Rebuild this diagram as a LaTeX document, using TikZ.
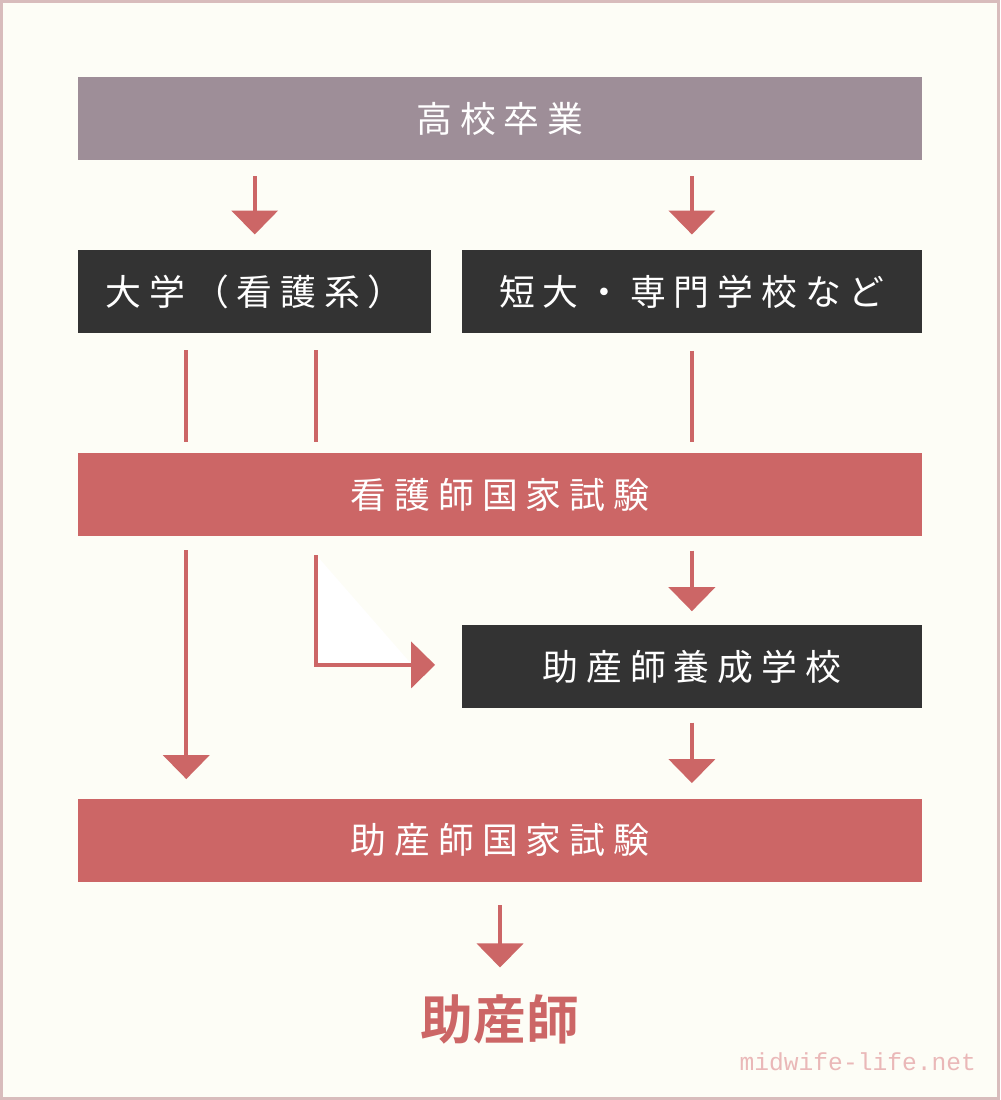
\documentclass[tikz,border=0pt]{standalone}
\usepackage{fontspec}
\setmainfont{Liberation Sans}
\newfontfamily\jpfont[LetterSpace=22]{Noto Sans CJK JP}
\newfontfamily\jpbold{Noto Sans CJK JP Bold}
\newfontfamily\urlfont{Liberation Mono}
\usepackage{xcolor}
\usetikzlibrary{arrows.meta,positioning}
\definecolor{bgcol}{HTML}{FDFDF6}
\definecolor{framecol}{HTML}{D8BCBC}
\definecolor{mauve}{HTML}{9E8E98}
\definecolor{darkbox}{HTML}{333333}
\definecolor{rosecol}{HTML}{CC6666}
\definecolor{pinktext}{HTML}{EAB8B8}

\begin{document}
\begin{tikzpicture}[x=0.01cm, y=-0.01cm,
    box/.style={rectangle, minimum height=0.83cm, text=white, inner sep=0pt,
      font=\jpfont\fontsize{10.2}{12}\selectfont},
    arrow/.style={-{Triangle[width=0.46cm,length=0.24cm]}, rosecol, line width=1.2pt},
    link/.style={rosecol, line width=1.2pt}
]
    % Background and frame
    \fill[bgcol] (0,0) rectangle (1000,1100);
    \draw[framecol, line width=0.8pt] (1,1) rectangle (999,1099);

    % Boxes
    \node[box, fill=mauve, minimum width=8.44cm] (school) at (500,118.5) {高校卒業};
    \node[box, fill=darkbox, minimum width=3.53cm] (univ) at (254.5,291.5) {大学（看護系）};
    \node[box, fill=darkbox, minimum width=4.6cm] (college) at (692,291.5) {短大・専門学校など};
    \node[box, fill=rosecol, minimum width=8.44cm] (nurseexam) at (500,494.5) {看護師国家試験};
    \node[box, fill=darkbox, minimum width=4.6cm] (midschool) at (692,666.5) {助産師養成学校};
    \node[box, fill=rosecol, minimum width=8.44cm] (midexam) at (500,840.5) {助産師国家試験};

    % Result and site name
    \node[text=rosecol, font=\jpbold\fontsize{15}{18}\selectfont] (midwife) at (500,1020) {助産師};
    \node[text=pinktext, font=\urlfont\fontsize{7}{8}\selectfont] (site) at (858,1062) {midwife-life.net};

    % Free ends of the connectors
    \coordinate (ua) at (186,350);
    \coordinate (ub) at (316,350);
    \coordinate (ua2) at (186,550);
    \coordinate (ub2) at (316,555);
    \coordinate (bend) at (316,665);
    \coordinate (tip) at (435,665);

    % Arrows
    \draw[arrow, shorten <=0.15cm, shorten >=0.15cm] (school.south -| univ) -- (univ.north);
    \draw[arrow, shorten <=0.15cm, shorten >=0.15cm] (school.south -| college) -- (college.north);
    \draw[link, shorten >=0.1cm] (ua) -- (ua |- nurseexam.north);
    \draw[link, shorten >=0.1cm] (ub) -- (ub |- nurseexam.north);
    \draw[link, shorten <=0.17cm, shorten >=0.1cm] (college.south) -- (college.south |- nurseexam.north);
    \draw[arrow, shorten >=0.19cm] (ua2) -- (ua2 |- midexam.north);
    \draw[arrow, fill=white] (ub2) -- (bend) -- (tip);
    \draw[arrow, shorten <=0.14cm, shorten >=0.13cm] (nurseexam.south -| midschool) -- (midschool.north);
    \draw[arrow, shorten <=0.14cm, shorten >=0.15cm] (midschool.south) -- (midexam.north -| midschool);
    \draw[arrow, shorten <=0.23cm, shorten >=0.15cm] (midexam.south) -- (midwife.north);
\end{tikzpicture}
\end{document}
